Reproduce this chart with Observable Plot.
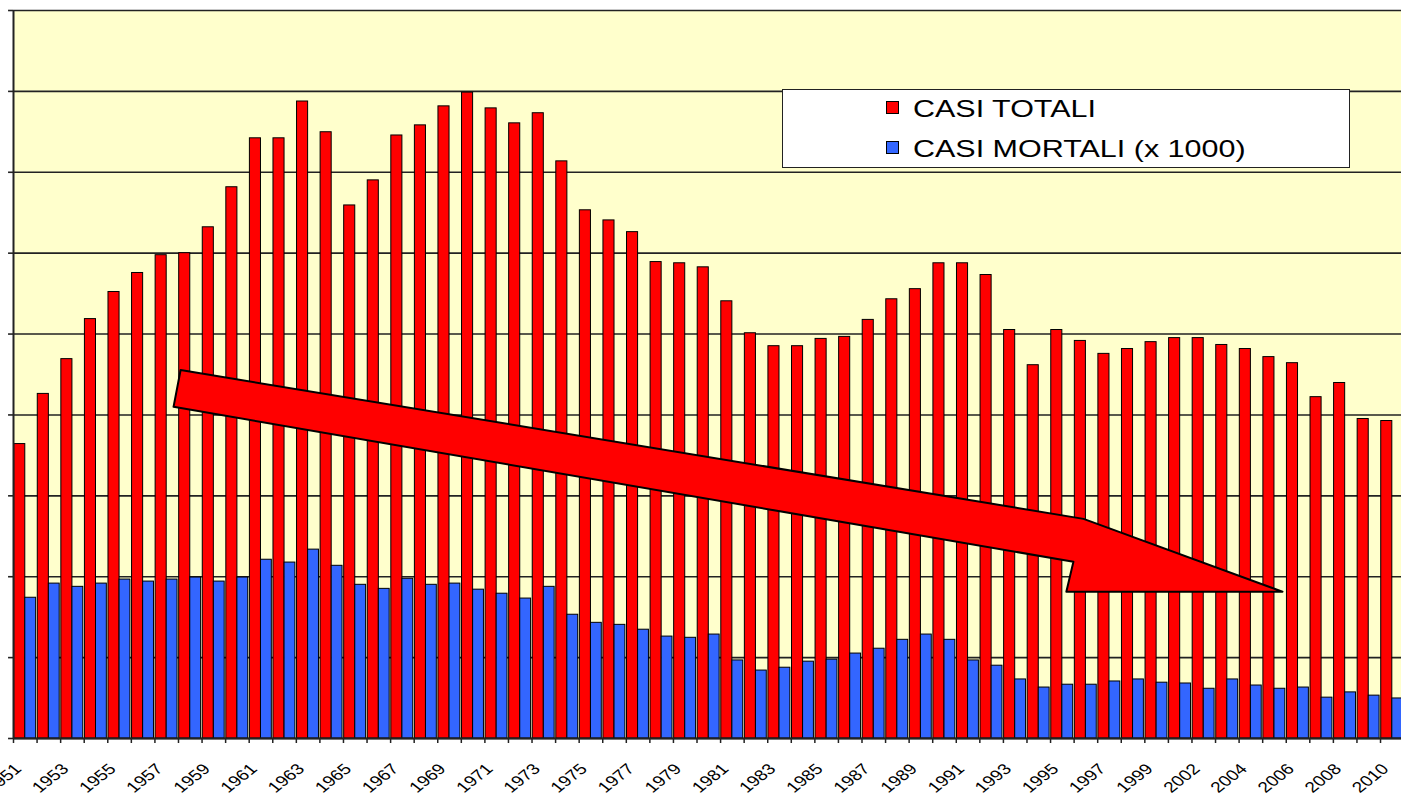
<!DOCTYPE html>
<html>
<head>
<meta charset="utf-8">
<script src="https://cdn.jsdelivr.net/npm/d3@7"></script>
<script src="https://cdn.jsdelivr.net/npm/@observablehq/plot@0.6"></script>
<style>
html, body { margin: 0; padding: 0; background: #fff; overflow: hidden; width: 1401px; height: 798px; }
#wrap { position: relative; width: 1401px; height: 798px; }
#legend { position: absolute; left: 782px; top: 89px; width: 566px; height: 77px; background: #fff;
  border: 1.5px solid #222; font-family: Arial, "Liberation Sans", sans-serif; }
.sw { position: absolute; left: 103px; width: 11px; height: 11px; border: 1px solid #000; }
.lbl { position: absolute; left: 130px; font-size: 24px; line-height: 24px; color: #000; white-space: nowrap;
  transform: scaleX(1.27); transform-origin: left center; }
</style>
</head>
<body>
<div id="wrap">
  <div id="chart"></div>
  <div id="legend"></div>
</div>
<script>
// ---- data ----
const categories = [
  "1951","1952","1953","1954","1955","1956","1957","1958","1959","1960",
  "1961","1962","1963","1964","1965","1966","1967","1968","1969","1970",
  "1971","1972","1973","1974","1975","1976","1977","1978","1979","1980",
  "1981","1982","1983","1984","1985","1986","1987","1988","1989","1990",
  "1991","1992","1993","1994","1995","1996","1997","1998","1999","2000",
  "2002","2003","2004","2005","2006","2007","2008","2009","2010"
];
// CASI TOTALI
const totals = [
  728, 852, 938, 1037, 1104, 1151, 1195, 1200, 1264, 1363,
  1484, 1484, 1575, 1499, 1318, 1380, 1491, 1516, 1563, 1597,
  1558, 1521, 1546, 1427, 1306, 1281, 1252, 1178, 1175, 1165,
  1081, 1002, 970, 970, 988, 993, 1035, 1086, 1111, 1175,
  1175, 1146, 1010, 923, 1010, 983, 951, 963, 980, 990,
  990, 973, 963, 943, 928, 844, 879, 790, 785
];
// CASI MORTALI (x 1000)
const deaths = [
  348, 383, 375, 383, 393, 388, 393, 398, 388, 398,
  442, 435, 467, 427, 380, 370, 395, 380, 383, 368,
  358, 346, 375, 306, 286, 281, 269, 252, 249, 257,
  193, 168, 175, 190, 195, 210, 222, 244, 257, 244,
  193, 180, 146, 126, 133, 133, 141, 146, 138, 136,
  123, 146, 131, 123, 126, 101, 114, 106, 99
];
const seriesNames = ["CASI TOTALI", "CASI MORTALI (x 1000)"];
const seriesColors = ["#FF0000", "#3366FF"];
const gridValues = [0, 200, 400, 600, 800, 1000, 1200, 1400, 1600, 1800];
// annotation arrow vertices (category position, value)
const arrowX = [7.09, 45.40, 53.84, 44.67, 44.97, 6.79];
const arrowV = [911, 543, 363, 363, 437, 820];

// ---- build ----
const rows = categories.map((c, i) => ({i, c, total: totals[i], death: deaths[i]}));
const labelRows = rows.filter(r => r.i % 2 === 0);
const arrow = arrowX.map((x, k) => ({x, v: arrowV[k]}));
const catTicks = d3.range(categories.length);

const chart = Plot.plot({
  width: 1401,
  height: 798,
  marginTop: 10,
  marginBottom: 60,
  marginLeft: 13,
  marginRight: 0,
  x: {type: "linear", domain: [0, 58.89], axis: null},
  y: {type: "linear", domain: [0, 1800], axis: null},
  style: {fontFamily: "Arial, 'Liberation Sans', sans-serif", background: "white", overflow: "hidden"},
  marks: [
    Plot.frame({fill: "#FFFFCC", stroke: "none"}),
    Plot.ruleY(gridValues, {stroke: "#222", strokeWidth: 1.6}),
    Plot.rectY(rows, {x1: d => d.i + 0.03, x2: d => d.i + 0.5, y: "total", fill: seriesColors[0], stroke: "#000", strokeWidth: 1}),
    Plot.rectY(rows, {x1: d => d.i + 0.5, x2: d => d.i + 0.96, y: "death", fill: seriesColors[1], stroke: "#000", strokeWidth: 1}),
    Plot.ruleX([0], {stroke: "#222", strokeWidth: 2}),
    Plot.ruleY(gridValues, {x1: 0, x2: -0.21, stroke: "#222", strokeWidth: 1.6}),
    Plot.ruleY([0], {stroke: "#222", strokeWidth: 2}),
    Plot.ruleX(catTicks, {y1: 0, y2: -12.4, stroke: "#222", strokeWidth: 1.5}),
    Plot.line(arrow, {x: "x", y: "v", curve: "linear-closed", fill: "#FF0000", stroke: "#000", strokeWidth: 2}),
    Plot.text(labelRows, {x: d => d.i + 0.5, y: 0, text: "c", textAnchor: "end", rotate: -45,
      dx: -7, dy: 28, fontSize: 15, fill: "#000"})
  ]
});
// horizontal stretch of rotated tick labels, as in the original
chart.querySelectorAll('g[aria-label="text"] text').forEach(t => {
  const tr = t.getAttribute("transform");
  if (tr) t.setAttribute("transform", tr.replace(/rotate\(([-\d.]+)\)/, "scale(1.27,1) rotate($1)"));
});
document.getElementById("chart").appendChild(chart);

// legend
const legend = document.getElementById("legend");
seriesNames.forEach((name, k) => {
  const sw = document.createElement("div");
  sw.className = "sw";
  sw.style.top = (11 + k * 40) + "px";
  sw.style.background = seriesColors[k];
  legend.appendChild(sw);
  const lb = document.createElement("div");
  lb.className = "lbl";
  lb.style.top = (7 + k * 40) + "px";
  lb.textContent = name;
  legend.appendChild(lb);
});
</script>
</body>
</html>
